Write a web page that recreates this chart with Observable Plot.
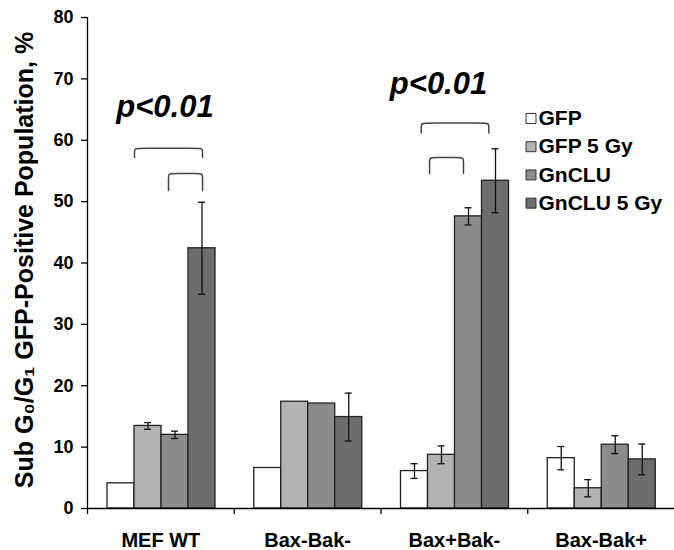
<!DOCTYPE html>
<html>
<head>
<meta charset="utf-8">
<script src="https://cdn.jsdelivr.net/npm/d3@7"></script>
<script src="https://cdn.jsdelivr.net/npm/@observablehq/plot@0.6"></script>
<style>
  body { margin: 0; background: #fff; }
  #chart { width: 674px; height: 550px; }
</style>
</head>
<body>
<div id="chart"></div>
<script>
// ---- data ----
const groups = ["MEF WT", "Bax-Bak-", "Bax+Bak-", "Bax-Bak+"];
const series = ["GFP", "GFP 5 Gy", "GnCLU", "GnCLU 5 Gy"];
const gfp      = [4.1, 6.6, 6.1, 8.2];
const gfp5     = [13.45, 17.4, 8.75, 3.3];
const gnclu    = [12.0, 17.1, 47.6, 10.4];
const gnclu5   = [42.4, 14.9, 53.4, 8.0];
const gfpErr    = [null, null, 1.2, 1.9];
const gfp5Err   = [0.55, null, 1.45, 1.4];
const gncluErr  = [0.6, null, 1.4, 1.45];
const gnclu5Err = [7.5, 3.9, 5.2, 2.5];
const yTicks = [0, 10, 20, 30, 40, 50, 60, 70, 80];
const yTitle = "Sub G₀/G₁ GFP-Positive Population, %";
// significance annotations (data units: x = group position, y = %)
const pLabels = [
  {text: "p<0.01", x: 0.528, y: 63.8},
  {text: "p<0.01", x: 2.392, y: 67.6}
];
const brackets = [
  {x1: 0.320, x2: 0.784, top: 58.7, bottom: 57.2},
  {x1: 0.552, x2: 0.784, top: 54.6, bottom: 51.8},
  {x1: 2.274, x2: 2.735, top: 62.8, bottom: 61.2},
  {x1: 2.331, x2: 2.562, top: 57.2, bottom: 54.6}
];

// ---- layout constants ----
const colors = ["#ffffff", "#b3b3b3", "#8c8c8c", "#6d6d6d"];
const PXU = 146.75;            // pixels per group unit
const GAP = 20 / PXU;          // left gap inside a group
const BW = 27 / PXU;           // bar width
const CAP = 3.5 / PXU;         // half cap width
const font = "Liberation Sans, Arial, Helvetica, sans-serif";

const values = [gfp, gfp5, gnclu, gnclu5];
const errs = [gfpErr, gfp5Err, gncluErr, gnclu5Err];
const rows = groups.flatMap((g, gi) => series.map((s, si) => ({
  gi, si, s, v: values[si][gi], e: errs[si][gi],
  x1: gi + GAP + si * BW, x2: gi + GAP + (si + 1) * BW, c: gi + GAP + (si + 0.5) * BW
})));
const errRows = rows.filter(d => d.e != null);
const caps = errRows.flatMap(d => [{c: d.c, y: d.v - d.e}, {c: d.c, y: d.v + d.e}]);

const rx = 5 / PXU, ry = 0.8;
const bracketPts = brackets.flatMap((b, i) => [
  [b.x1, b.bottom], [b.x1, b.bottom], [b.x1, b.top - ry], [b.x1, b.top], [b.x1 + rx, b.top],
  [b.x2 - rx, b.top], [b.x2, b.top], [b.x2, b.top - ry], [b.x2, b.bottom], [b.x2, b.bottom]
].map(([x, y]) => ({id: i, x, y})));

const legRows = series.map((s, i) => ({s, y: 63.55 - i * 4.6}));

const chart = Plot.plot({
  width: 674,
  height: 550,
  marginLeft: 87,
  marginRight: 0,
  marginTop: 17,
  marginBottom: 42,
  style: {fontFamily: font, background: "#fff", color: "#000"},
  x: {domain: [0, 4], axis: null},
  y: {domain: [0, 80], axis: null},
  color: {domain: series, range: colors},
  marks: [
    Plot.rectY(rows, {x1: "x1", x2: "x2", y1: 0, y2: "v", fill: "s", stroke: "#222", strokeWidth: 1.3}),
    Plot.ruleX(errRows, {x: "c", y1: d => d.v - d.e, y2: d => d.v + d.e, stroke: "#111", strokeWidth: 1.3}),
    Plot.ruleY(caps, {y: "y", x1: d => d.c - CAP, x2: d => d.c + CAP, stroke: "#111", strokeWidth: 1.3}),
    Plot.ruleX([0], {y1: 0, y2: 80, stroke: "#000", strokeWidth: 1.3}),
    Plot.ruleY([0], {stroke: "#000", strokeWidth: 1.3}),
    Plot.axisY({ticks: yTicks, tickSize: 6, tickPadding: 8, label: null, fontSize: 18, fontWeight: "bold", strokeWidth: 1.3}),
    Plot.axisX({ticks: [0, 1, 2, 3], tickSize: 6, tickFormat: () => "", label: null, strokeWidth: 1.3}),
    Plot.axisX({ticks: [0.5, 1.5, 2.5, 3.5], tickSize: 0, tickPadding: 24, tickFormat: d => groups[Math.floor(d)], label: null, fontSize: 20, fontWeight: "bold"}),
    Plot.text([yTitle], {frameAnchor: "left", textAnchor: "middle", lineAnchor: "middle", dx: -63, dy: -3, rotate: -90, fontSize: 25, fontWeight: "bold", fill: "#000"}),
    Plot.text(pLabels, {x: "x", y: "y", text: "text", textAnchor: "middle", lineAnchor: "bottom", fontSize: 31, fontWeight: "bold", fontStyle: "italic", fill: "#000"}),
    Plot.line(bracketPts, {x: "x", y: "y", z: "id", curve: "basis", stroke: "#444", strokeWidth: 1.5}),
    Plot.dot(legRows, {x: (538 - 87 - 7.5) / PXU, y: "y", symbol: "square", r: 5.64, fill: "s", stroke: "#333", strokeWidth: 1}),
    Plot.text(legRows, {x: (538 - 87) / PXU, y: "y", text: "s", textAnchor: "start", lineAnchor: "middle", fontSize: 21, fontWeight: "bold", fill: "#000"})
  ]
});
document.getElementById("chart").appendChild(chart);
</script>
</body>
</html>
